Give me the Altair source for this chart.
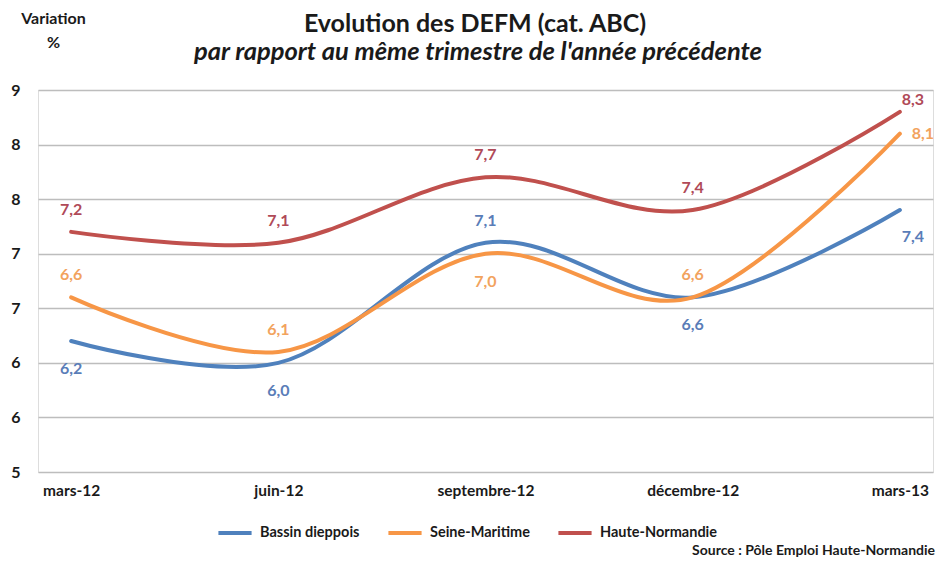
import altair as alt
import pandas as pd

# ---- data ----
periods = ["mars-12", "juin-12", "septembre-12", "décembre-12", "mars-13"]
series_names = ["Bassin dieppois", "Seine-Maritime", "Haute-Normandie"]
bassin_dieppois = [6.2, 6.0, 7.1, 6.6, 7.4]
seine_maritime = [6.6, 6.1, 7.0, 6.6, 8.1]
haute_normandie = [7.2, 7.1, 7.7, 7.4, 8.3]
y_tick_values = [5.0, 5.5, 6.0, 6.5, 7.0, 7.5, 8.0, 8.5]

title_text = "Evolution des DEFM (cat. ABC)"
subtitle_text = "par rapport au même trimestre de l'année précédente"
source_text = "Source : Pôle Emploi Haute-Normandie"

# where each data label sits relative to its point
label_side = {
    "Bassin dieppois": ["below", "below", "above", "below", "right_below"],
    "Seine-Maritime": ["above", "above", "below", "above", "right"],
    "Haute-Normandie": ["above", "above", "above", "above", "right_above"],
}

# ---- styles ----
FONT = "Lato"
INK = "#1a1a1a"
line_colors = ["#4F81BD", "#F79646", "#C0504D"]
label_colors = ["#5A7DB8", "#F2A35E", "#B04A58"]
offsets = {
    "above": (0, -22),
    "below": (0, 28),
    "right": (23, 0),
    "right_above": (13, -12),
    "right_below": (13, 27),
}

values = {
    "Bassin dieppois": bassin_dieppois,
    "Seine-Maritime": seine_maritime,
    "Haute-Normandie": haute_normandie,
}
rows = []
for s in series_names:
    for i, p in enumerate(periods):
        rows.append({"series": s, "period": p, "value": values[s][i],
                     "side": label_side[s][i], "order": i})
df = pd.DataFrame(rows)

x_enc = alt.X(
    "period:N",
    sort=periods,
    scale=alt.Scale(type="point", padding=0.16),
    axis=alt.Axis(
        title=None, labelAngle=0, ticks=False, domain=False, grid=False,
        labelFont=FONT, labelFontWeight="bold", labelFontSize=15.5,
        labelColor=INK, labelPadding=11,
    ),
)
y_enc = alt.Y(
    "value:Q",
    scale=alt.Scale(domain=[5, 8.5], nice=False, zero=False),
    axis=alt.Axis(
        values=y_tick_values, format=".0f", ticks=False, domain=False,
        gridColor="#BDBDBD", gridWidth=1.5,
        labelFont=FONT, labelFontWeight="bold", labelFontSize=16,
        labelColor=INK, labelPadding=18,
        title=["Variation", "%"], titleAngle=0, titleX=15, titleY=-72,
        titleAlign="center", titleBaseline="middle", titleFont=FONT,
        titleFontWeight="bold", titleFontSize=16, titleColor=INK,
        titleLineHeight=24,
    ),
)

lines = alt.Chart(df).mark_line(
    interpolate="cardinal", strokeWidth=4, strokeCap="round"
).encode(
    x=x_enc,
    y=y_enc,
    order="order:Q",
    color=alt.Color(
        "series:N",
        scale=alt.Scale(domain=series_names, range=line_colors),
        legend=alt.Legend(
            title=None, orient="none", direction="horizontal",
            legendX=178, legendY=424,
            symbolType="stroke", symbolSize=1100, symbolStrokeWidth=4,
            labelFont=FONT, labelFontWeight="bold", labelFontSize=14.5,
            labelColor=INK, columnPadding=20, labelOffset=6,
        ),
    ),
)

text_layers = []
for side, (dx, dy) in offsets.items():
    text_layers.append(
        alt.Chart(df).transform_filter(alt.datum.side == side)
        .transform_calculate(txt="replace(format(datum.value, '.1f'), '.', ',')")
        .mark_text(font=FONT, fontWeight="bold", fontSize=16, dx=dx, dy=dy,
                   baseline="middle")
        .encode(
            x=alt.X("period:N", sort=periods),
            y="value:Q",
            text="txt:N",
            color=alt.Color("series:N",
                            scale=alt.Scale(domain=series_names, range=label_colors),
                            legend=None),
        )
    )

annot = pd.DataFrame({"t": [title_text, subtitle_text, source_text]})

title_mark = alt.Chart(annot).transform_filter(alt.datum.t == title_text).mark_text(
    font=FONT, fontWeight="bold", fontSize=25, align="center", baseline="middle",
    color=INK,
).encode(text="t:N", x=alt.value(437), y=alt.value(-66))

subtitle_mark = alt.Chart(annot).transform_filter(alt.datum.t == subtitle_text).mark_text(
    font=FONT, fontWeight="bold", fontStyle="italic", fontSize=25.5, align="center",
    baseline="middle", color=INK,
).encode(text="t:N", x=alt.value(440), y=alt.value(-38))

source = alt.Chart(annot).transform_filter(alt.datum.t == source_text).mark_text(
    font=FONT, fontWeight="bold", fontSize=14, align="right", baseline="middle",
    color=INK,
).encode(text="t:N", x=alt.value(897), y=alt.value(461))

chart = alt.layer(lines, *text_layers, title_mark, subtitle_mark, source).resolve_scale(
    color="independent"
).properties(
    width=895,
    height=382,
    autosize=alt.AutoSizeParams(type="none"),
    padding={"left": 30, "top": 82, "right": 4, "bottom": 85},
).configure_view(
    fill="#F3F3F3", stroke="#A8A8A8", strokeWidth=1.5
).configure(background="white")

chart.save("out.html", embed_options={"renderer": "svg", "actions": False})
